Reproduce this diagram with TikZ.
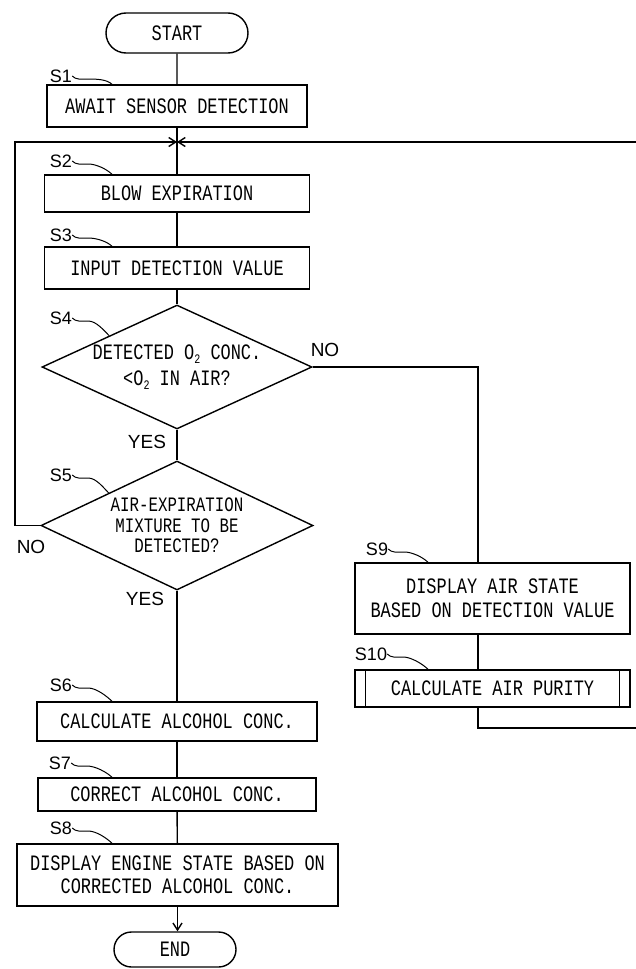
\documentclass[tikz,border=0pt]{standalone}
\usepackage{fontspec}
\setmainfont{Liberation Sans}
\newfontfamily\boxfont[FakeStretch=0.77]{Liberation Mono}
\usetikzlibrary{shapes.geometric,shapes.misc,arrows.meta,calc}
\newcommand\lowtwo{\raisebox{-0.4ex}{\fontsize{13}{13}\selectfont 2}}
\newcommand\leadto[2]{\draw[lead] (#1.east) .. controls +(4,4) and +(-8,0) .. ($(#1.east)+(16,3)$) .. controls +(8,0) and +(-5,-5) .. (#2);}
\tikzset{
 flow/.style={draw, line width=1.4pt, rectangle, inner sep=0pt, align=center,
   font=\boxfont\fontsize{22}{24}\selectfont},
 term/.style={flow, rounded rectangle},
 decision/.style={flow, diamond, inner sep=-4pt},
 steplabel/.style={font=\fontsize{18}{18}\selectfont, inner sep=0pt},
 yesno/.style={font=\fontsize{19}{19}\selectfont, inner sep=0pt},
 line/.style={line width=1.4pt},
 arr/.style={line, -{Straight Barb[length=7pt,width=9pt,line width=1.4pt]}},
 lead/.style={line width=1pt},
}
\begin{document}
\begin{tikzpicture}[x=1pt,y=-1pt]
\useasboundingbox (0,0) rectangle (636,969);
% nodes
\node[term, minimum width=142, minimum height=40] (start) at (177,33) {START};
\node[flow, minimum width=260, minimum height=42] (s1) at (177,106) {AWAIT SENSOR DETECTION};
\node[flow, minimum width=265, minimum height=37] (s2) at (177,193.5) {BLOW EXPIRATION};
\node[flow, minimum width=265, minimum height=42] (s3) at (177,268) {INPUT DETECTION VALUE};
\node[decision, aspect=2.18, minimum width=270, minimum height=124] (s4) at (177,367)
  {DETECTED O\lowtwo{} CONC.\\[2pt] <O\lowtwo{} IN AIR?};
\node[decision, aspect=2.11, minimum width=272, minimum height=129, font=\boxfont\fontsize{20.5}{20.5}\selectfont] (s5) at (177,525.5)
  {AIR-EXPIRATION\\MIXTURE TO BE\\DETECTED?};
\node[flow, minimum width=280, minimum height=39] (s6) at (177,721.5) {CALCULATE ALCOHOL CONC.};
\node[flow, minimum width=278, minimum height=33] (s7) at (177,794.5) {CORRECT ALCOHOL CONC.};
\node[flow, minimum width=321, minimum height=62, font=\boxfont\fontsize{22}{23}\selectfont] (s8) at (177.5,875)
  {DISPLAY ENGINE STATE BASED ON\\CORRECTED ALCOHOL CONC.};
\node[term, minimum width=122, minimum height=35] (end) at (175,949.5) {END};
\node[flow, minimum width=275, minimum height=71] (s9) at (492.5,598.5)
  {DISPLAY AIR STATE\\BASED ON DETECTION VALUE};
\node[flow, minimum width=275, minimum height=37] (s10) at (492.5,688.5) {CALCULATE AIR PURITY};
\draw[line] ($(s10.north west)+(11,0)$) -- ($(s10.south west)+(11,0)$);
\draw[line] ($(s10.north east)+(-11,0)$) -- ($(s10.south east)+(-11,0)$);
% step labels
\node[steplabel] (l1) at (61,76) {S1};
\node[steplabel] (l2) at (61,161) {S2};
\node[steplabel] (l3) at (61,235) {S3};
\node[steplabel] (l4) at (61,318) {S4};
\node[steplabel] (l5) at (61,475) {S5};
\node[steplabel] (l6) at (61,685) {S6};
\node[steplabel] (l7) at (60,763) {S7};
\node[steplabel] (l8) at (61,828) {S8};
\node[steplabel] (l9) at (377,549) {S9};
\node[steplabel] (l10) at (371,654) {S10};
\coordinate (tx) at (112,0);
\coordinate (tx9) at (428,0);
\leadto{l1}{s1.north -| tx}
\leadto{l2}{s2.north -| tx}
\leadto{l3}{s3.north -| tx}
\leadto{l4}{$(s4.north)!0.5!(s4.west)$}
\leadto{l5}{$(s5.north)!0.5!(s5.west)$}
\leadto{l6}{s6.north -| tx}
\leadto{l7}{s7.north -| tx}
\leadto{l8}{s8.north -| tx}
\leadto{l9}{s9.north -| tx9}
\leadto{l10}{s10.north -| tx9}
% yes / no
\node[yesno] (y4) at (147,442) {YES};
\node[yesno] (y5) at (145,599) {YES};
\node[yesno] (n4) at (325,350) {NO};
\node[yesno] (n5) at (31,547) {NO};
% connectors
\coordinate (j) at (177,142);
\coordinate (lx) at (15,0);
\coordinate (rx) at (478,0);
\coordinate (rt) at (636,142);
\coordinate (rb) at (636,728);
\draw[line] (start) -- (s1);
\draw[line] (s1) -- (s2);
\draw[line] (s2) -- (s3);
\draw[line] (s3) -- (s4);
\draw[line] (s4) -- (s5);
\draw[line] (s5) -- (s6 |- s6.north);
\draw[line] (s6) -- (s7);
\draw[line] (s7) -- (s8);
\draw[arr] (s8.south -| s8) -- (end.north -| s8);
\draw[arr] (s5.west) -- (s5.west -| lx) |- (j);
\draw[arr] (rt) -- (j);
\draw[line] (s4.east) -| (rx |- s9.north);
\draw[line] (rx |- s9.south) -- (rx |- s10.north);
\draw[line] (rx |- s10.south) |- (rb);
\end{tikzpicture}
\end{document}
